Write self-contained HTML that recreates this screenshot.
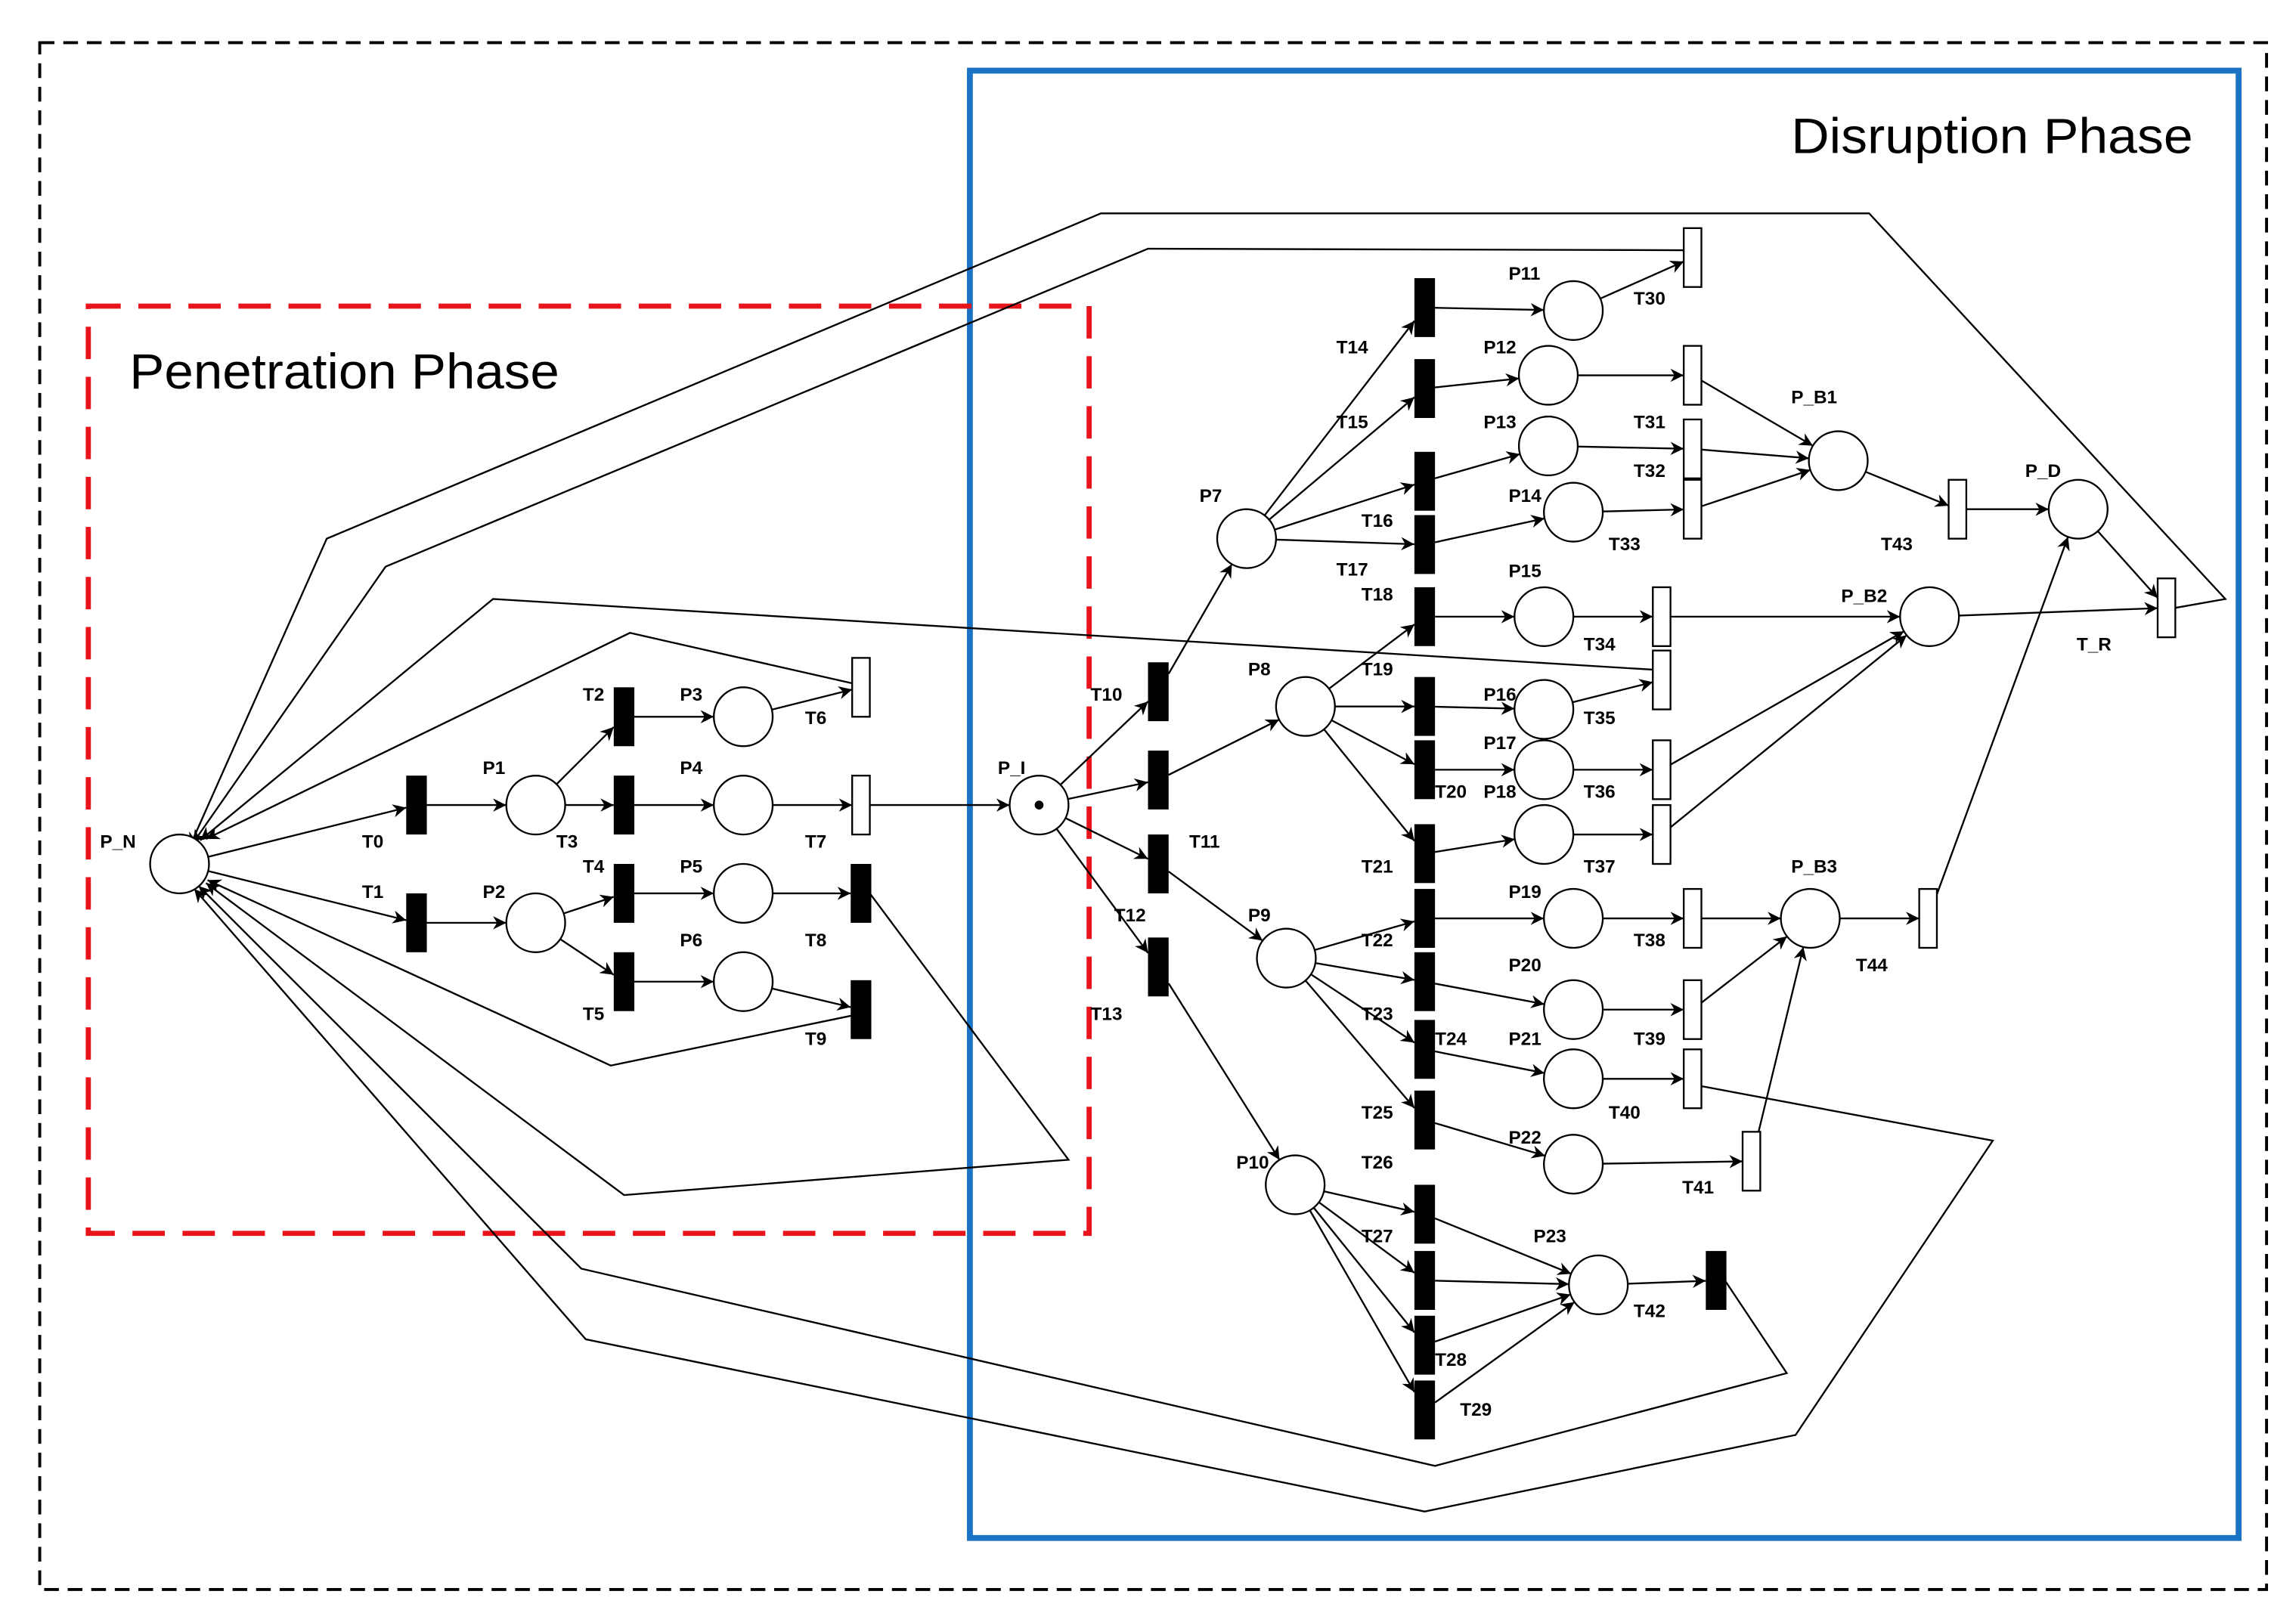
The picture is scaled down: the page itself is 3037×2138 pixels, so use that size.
<!DOCTYPE html>
<html><head><meta charset="utf-8"><style>
html,body{margin:0;padding:0;background:#fff;}
svg{display:block}
text{font-family:"Liberation Sans",Arial,sans-serif;font-weight:bold;font-size:12.5px;fill:#000}
.big{font-weight:normal;font-size:34px}
</style></head><body>
<svg id="s" width="3037" height="2138" viewBox="0 0 1560 1098" preserveAspectRatio="none" xmlns="http://www.w3.org/2000/svg">
<defs><marker id="a" viewBox="0 0 10 10" refX="10" refY="5" markerWidth="9" markerHeight="9" markerUnits="userSpaceOnUse" orient="auto"><path d="M0,0 L10,5 L0,10 L3,5 z" fill="#000"/></marker></defs>
<rect x="27" y="29" width="1513" height="1051" fill="none" stroke="#000" stroke-width="2" stroke-dasharray="10,6"/>
<rect x="659" y="48" width="862" height="997" fill="none" stroke="#1a73c4" stroke-width="4"/>
<rect x="60" y="208" width="680" height="630" fill="none" stroke="#e8141c" stroke-width="3.5" stroke-dasharray="22,12"/>
<text class="big" x="88" y="264" textLength="292" lengthAdjust="spacingAndGlyphs">Penetration Phase</text>
<text class="big" x="1217" y="104" textLength="273" lengthAdjust="spacingAndGlyphs">Disruption Phase</text>
<g id="g" stroke="#000" fill="none" stroke-width="1.2"></g>
<g id="n"></g>
<text x="246" y="576">T0</text><text x="328" y="526">P1</text><text x="246" y="610">T1</text><text x="328" y="610">P2</text>
<text x="396" y="476">T2</text><text x="462" y="476">P3</text><text x="378" y="576">T3</text><text x="462" y="526">P4</text>
<text x="396" y="593">T4</text><text x="462" y="593">P5</text><text x="396" y="693">T5</text><text x="462" y="643">P6</text>
<text x="547" y="492">T6</text><text x="547" y="576">T7</text><text x="547" y="643">T8</text><text x="547" y="710">T9</text>
<text x="68" y="576">P_N</text><text x="678" y="526">P_I</text>
<text x="741" y="476">T10</text><text x="808" y="576">T11</text><text x="757" y="626">T12</text><text x="741" y="693">T13</text>
<text x="815" y="341">P7</text><text x="848" y="459">P8</text><text x="848" y="626">P9</text><text x="840" y="794">P10</text>
<text x="908" y="240">T14</text><text x="908" y="291">T15</text><text x="925" y="358">T16</text><text x="908" y="391">T17</text>
<text x="925" y="408">T18</text><text x="925" y="459">T19</text><text x="975" y="542">T20</text><text x="925" y="593">T21</text>
<text x="925" y="643">T22</text><text x="925" y="693">T23</text><text x="975" y="710">T24</text><text x="925" y="760">T25</text>
<text x="925" y="794">T26</text><text x="925" y="844">T27</text><text x="975" y="928">T28</text><text x="992" y="962">T29</text>
<text x="1025" y="190">P11</text><text x="1008" y="240">P12</text><text x="1008" y="291">P13</text><text x="1025" y="341">P14</text>
<text x="1025" y="392">P15</text><text x="1008" y="476">P16</text><text x="1008" y="509">P17</text><text x="1008" y="542">P18</text>
<text x="1025" y="610">P19</text><text x="1025" y="660">P20</text><text x="1025" y="710">P21</text><text x="1025" y="777">P22</text>
<text x="1042" y="844">P23</text>
<text x="1110" y="207">T30</text><text x="1110" y="291">T31</text><text x="1110" y="324">T32</text><text x="1093" y="374">T33</text>
<text x="1076" y="442">T34</text><text x="1076" y="492">T35</text><text x="1076" y="542">T36</text><text x="1076" y="593">T37</text>
<text x="1110" y="643">T38</text><text x="1110" y="710">T39</text><text x="1093" y="760">T40</text><text x="1143" y="811">T41</text>
<text x="1110" y="895">T42</text><text x="1278" y="374">T43</text><text x="1261" y="660">T44</text>
<text x="1217" y="274">P_B1</text><text x="1376" y="324">P_D</text><text x="1251" y="409">P_B2</text><text x="1217" y="593">P_B3</text><text x="1411" y="442">T_R</text>
</svg>
<script>
var P={PN:[122,587],P1:[364,547],P2:[364,627],P3:[505,487],P4:[505,547],P5:[505,607],P6:[505,667],PI:[706,547],
P7:[847,366],P8:[887,480],P9:[874,651],P10:[880,805],P11:[1069,211],P12:[1052,255],P13:[1052,303],P14:[1069,348],
P15:[1049,419],P16:[1049,482],P17:[1049,523],P18:[1049,567],P19:[1069,624],P20:[1069,686],P21:[1069,733],P22:[1069,791],P23:[1086,873],
PB1:[1249,313],PD:[1412,346],PB2:[1311,419],PB3:[1230,624]};
var T={T0:[283,547,1],T1:[283,627,1],T2:[424,487,1],T3:[424,547,1],T4:[424,607,1],T5:[424,667,1],T8:[585,607,1],T9:[585,686,1],
T10:[787,470,1],T11:[787,530,1],T12:[787,587,1],T13:[787,657,1],
T14:[968,209,1],T15:[968,264,1],T16:[968,327,1],T17:[968,370,1],T18:[968,419,1],T19:[968,480,1],T20:[968,523,1],T21:[968,580,1],
T22:[968,624,1],T23:[968,667,1],T24:[968,713,1],T25:[968,761,1],T26:[968,825,1],T27:[968,870,1],T28:[968,914,1],T29:[968,958,1],
T6:[585,467,0],T7:[585,547,0],T30:[1150,175,0],T31:[1150,255,0],T32:[1150,305,0],T33:[1150,346,0],T34:[1129,419,0],T35:[1129,462,0],
T36:[1129,523,0],T37:[1129,567,0],T38:[1150,624,0],T39:[1150,686,0],T40:[1150,733,0],T41:[1190,789,0],T42:[1166,870,1],
T43:[1330,346,0],T44:[1310,624,0],TR:[1472,413,0]};
var NS="http://www.w3.org/2000/svg",g=document.getElementById('g'),n=document.getElementById('n');
function el(t,a,p){var e=document.createElementNS(NS,t);for(var k in a)e.setAttribute(k,a[k]);(p||g).appendChild(e);return e;}
function ctr(k){return P[k]?P[k]:T[k];}
function endpt(k,fx,fy){var c=ctr(k);var dx=fx-c[0],dy=fy-c[1],d=Math.hypot(dx,dy)||1;
 if(P[k])return [c[0]+dx/d*20,c[1]+dy/d*20];
 var hw=T[k][2]?7:6,hh=20;var s=Math.min(hw/Math.abs(dx||1e-9),hh/Math.abs(dy||1e-9));return [c[0]+dx*s,c[1]+dy*s];}
function arc(a,b){var A=ctr(a),B=ctr(b);var s=endpt(a,B[0],B[1]),e=endpt(b,A[0],A[1]);
 el('line',{x1:s[0],y1:s[1],x2:e[0],y2:e[1],'marker-end':'url(#a)'});}
var L=[['PN','T0'],['PN','T1'],['T0','P1'],['T1','P2'],['P1','T2'],['P1','T3'],['P2','T4'],['P2','T5'],['T2','P3'],['T3','P4'],['T4','P5'],['T5','P6'],
['P3','T6'],['P4','T7'],['P5','T8'],['P6','T9'],['T7','PI'],['PI','T10'],['PI','T11'],['PI','T12'],['PI','T13'],
['T10','P7'],['T11','P8'],['T12','P9'],['T13','P10'],['P7','T14'],['P7','T15'],['P7','T16'],['P7','T17'],
['T14','P11'],['T15','P12'],['T16','P13'],['T17','P14'],['P8','T18'],['P8','T19'],['P8','T20'],['P8','T21'],
['T18','P15'],['T19','P16'],['T20','P17'],['T21','P18'],['P9','T22'],['P9','T23'],['P9','T24'],['P9','T25'],
['T22','P19'],['T23','P20'],['T24','P21'],['T25','P22'],['P10','T26'],['P10','T27'],['P10','T28'],['P10','T29'],
['T26','P23'],['T27','P23'],['T28','P23'],['T29','P23'],['P11','T30'],['P12','T31'],['P13','T32'],['P14','T33'],
['P15','T34'],['P16','T35'],['P17','T36'],['P18','T37'],['P19','T38'],['P20','T39'],['P21','T40'],['P22','T41'],['P23','T42'],
['T31','PB1'],['T32','PB1'],['T33','PB1'],['T34','PB2'],['T36','PB2'],['T37','PB2'],['T38','PB3'],['T39','PB3'],['T41','PB3'],
['PB1','T43'],['T43','PD'],['PB2','TR'],['PD','TR'],['PB3','T44'],['T44','PD']];
L.forEach(function(x){arc(x[0],x[1]);});
var R=[[[591,467],[428,430],[140,570]],[[1123,455],[335,407],[136,571]],[[1144,170],[780,169],[262,385],[131,573]],
[[1478,413],[1512,407],[1270,145],[748,145],[222,366],[129,575]],[[591,607],[726,788],[424,812],[140,600]],
[[579,690],[415,724],[141,598]],[[1156,738],[1354,775],[1220,975],[968,1027],[398,910],[132,604]],
[[1172,870],[1214,933],[975,996],[395,862],[135,602]]];
R.forEach(function(p){el('polyline',{points:p.map(function(q){return q.join(',')}).join(' '),'marker-end':'url(#a)'});});
for(var k in P){el('circle',{cx:P[k][0],cy:P[k][1],r:20,fill:'#fff',stroke:'#000','stroke-width':1.2},n);}
el('circle',{cx:706,cy:547,r:3,fill:'#000'},n);
for(var k in T){var t=T[k];if(t[2])el('rect',{x:t[0]-7,y:t[1]-20,width:14,height:40,fill:'#000'},n);
 else el('rect',{x:t[0]-6,y:t[1]-20,width:12,height:40,fill:'#fff',stroke:'#000','stroke-width':1.2},n);}
</script>
</body></html>
